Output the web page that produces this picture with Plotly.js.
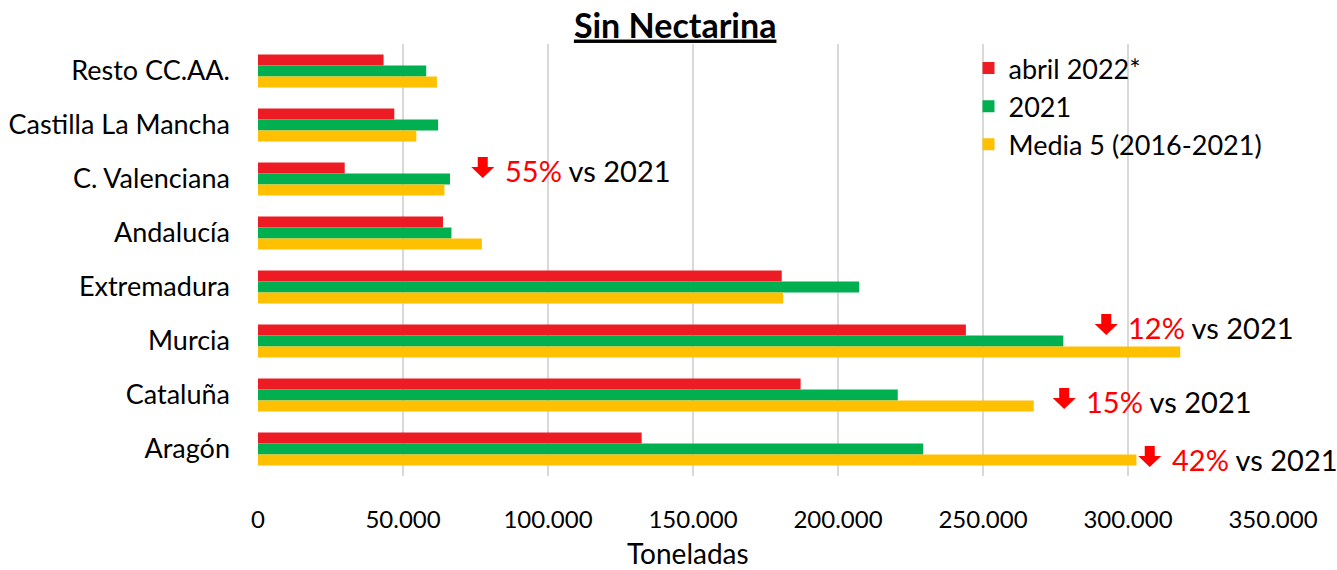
<!DOCTYPE html>
<html>
<head>
<meta charset="utf-8">
<script src="https://cdn.plot.ly/plotly-3.0.1.min.js"></script>
<style>html,body{margin:0;padding:0;background:#fff;}#chart{width:1337px;height:570px;}</style>
</head>
<body>
<div id="chart"></div>
<script>
const categories = ["Resto CC.AA.", "Castilla La Mancha", "C. Valenciana", "Andalucía", "Extremadura", "Murcia", "Cataluña", "Aragón"];
const abril2022 = [43300, 47000, 29900, 63800, 180600, 244100, 187100, 132300];
const y2021 = [58000, 62100, 66200, 66700, 207300, 277700, 220600, 229400];
const media5 = [61700, 54600, 64300, 77200, 181100, 318000, 267500, 302900];
const seriesNames = ["abril 2022*", "2021", "Media 5 (2016-2021)"];
const xTicks = [0, 50000, 100000, 150000, 200000, 250000, 300000, 350000];
const notes = [
  {cat: "C. Valenciana", x: 77500, pct: "55%"},
  {cat: "Murcia", x: 292500, pct: "12%"},
  {cat: "Cataluña", x: 278000, pct: "15%"},
  {cat: "Aragón", x: 307500, pct: "42%"}
];

const FONT = "Lato, 'Open Sans', sans-serif";
const colors = ["#ED1C24", "#00B050", "#FFC000"];
const vals = [abril2022, y2021, media5];

const traces = vals.map((v, i) => ({
  type: "bar", orientation: "h", name: seriesNames[i],
  x: v, y: categories,
  marker: {color: colors[i], line: {width: 0}},
  hoverinfo: "x+name"
}));

const annotations = [];
const shapes = [];
const noteYOffset = {"C. Valenciana": -10, "Murcia": -15, "Cataluña": 5, "Aragón": 9};
notes.forEach(n => {
  const dy = noteYOffset[n.cat];
  annotations.push({
    xref: "x", yref: "y", x: n.x, y: n.cat, xanchor: "left", yanchor: "middle",
    yshift: -dy - 1, xshift: 20,
    text: '<span style="color:#FF0000">' + n.pct + '</span> vs 2021',
    showarrow: false, font: {family: FONT, size: 29, color: "#000"}
  });
  const b = 2 - dy;
  shapes.push({
    type: "path", xref: "x", yref: "y", xsizemode: "pixel", ysizemode: "pixel",
    xanchor: n.x, yanchor: n.cat,
    path: "M -5 " + (b + 10) + " L 5 " + (b + 10) + " L 5 " + b +
          " L 11.5 " + b + " L 0 " + (b - 11) + " L -11.5 " + b +
          " L -5 " + b + " Z",
    fillcolor: "#FF0000", line: {width: 0}
  });
});

annotations.push({
  xref: "paper", yref: "paper", x: 0.424, y: -0.178, xanchor: "center", yanchor: "middle",
  text: "Toneladas", showarrow: false, font: {family: FONT, size: 28, color: "#000"}
});

const layout = {
  width: 1337, height: 570,
  margin: {l: 258, r: 64, t: 44, b: 94},
  paper_bgcolor: "#fff", plot_bgcolor: "#fff",
  separators: ",.",
  font: {family: FONT, color: "#000"},
  title: {text: "<b><u>Sin Nectarina</u></b>", x: 0.505, xanchor: "center", y: 0.955, yanchor: "middle",
          font: {family: FONT, size: 34, color: "#000"}},
  barmode: "group", bargap: 0.39, bargroupgap: 0,
  xaxis: {
    range: [0, 350000], tickvals: xTicks, tickformat: ",d",
    showgrid: true, gridcolor: "#D9D9D9", gridwidth: 1.3, zeroline: false,
    showline: false, ticks: "", ticklabelstandoff: 27,
    tickfont: {family: FONT, size: 24, color: "#000"}
  },
  yaxis: {
    type: "category", categoryorder: "array", categoryarray: categories,
    autorange: "reversed", showgrid: false, zeroline: false, showline: false,
    ticks: "", ticklabelstandoff: 27,
    tickfont: {family: FONT, size: 27, color: "#000"}
  },
  legend: {
    x: 0.70, y: 1.0, xanchor: "left", yanchor: "top",
    font: {family: FONT, size: 27, color: "#000"},
    bgcolor: "rgba(255,255,255,0)", itemwidth: 30, tracegroupgap: 0
  },
  annotations: annotations,
  shapes: shapes
};

Plotly.newPlot("chart", traces, layout, {displayModeBar: false, staticPlot: true});
</script>
</body>
</html>
